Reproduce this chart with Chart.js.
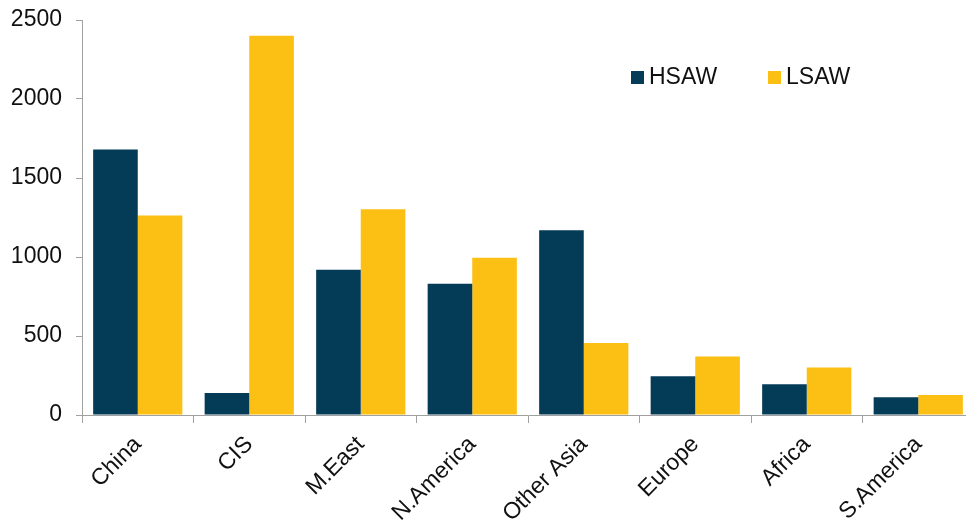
<!DOCTYPE html>
<html>
<head>
<meta charset="utf-8">
<script src="https://cdn.jsdelivr.net/npm/chart.js@4/dist/chart.umd.min.js"></script>
<style>
  html, body { margin: 0; padding: 0; background: #fff; overflow: hidden; }
  #wrap { position: absolute; left: 0; top: 0; width: 980px; height: 525px; }
</style>
</head>
<body>
<div id="wrap"><canvas id="c" width="980" height="525"></canvas></div>
<script>
const categories = ['China', 'CIS', 'M.East', 'N.America', 'Other Asia', 'Europe', 'Africa', 'S.America'];
const hsawValues = [1680, 140, 920, 830, 1170, 245, 195, 112];
const lsawValues = [1262, 2400, 1302, 995, 456, 370, 300, 127];
const seriesNames = ['HSAW', 'LSAW'];
const yTicks = [0, 500, 1000, 1500, 2000, 2500];

const colors = ['#043b56', '#fbc013'];
const FONT = "'Liberation Sans', Arial, sans-serif";

const legendPlugin = {
  id: 'customLegend',
  afterDraw(chart) {
    const ctx = chart.ctx;
    const items = [{x: 631, tx: 649}, {x: 768, tx: 786}];
    ctx.save();
    ctx.font = '23px ' + FONT;
    ctx.textBaseline = 'middle';
    chart.data.datasets.forEach((ds, i) => {
      ctx.fillStyle = ds.backgroundColor;
      ctx.fillRect(items[i].x, 71, 13, 13);
      ctx.fillStyle = '#111';
      ctx.fillText(ds.label, items[i].tx, 77.5);
    });
    ctx.restore();
  }
};

new Chart(document.getElementById('c'), {
  type: 'bar',
  data: {
    labels: categories,
    datasets: [
      { label: seriesNames[0], data: hsawValues, backgroundColor: colors[0], borderWidth: 0 },
      { label: seriesNames[1], data: lsawValues, backgroundColor: colors[1], borderWidth: 0 }
    ]
  },
  options: {
    responsive: false,
    animation: false,
    devicePixelRatio: 1,
    layout: { padding: { top: 20, right: 6, left: 0, bottom: 0 } },
    plugins: { legend: { display: false }, tooltip: { enabled: false } },
    datasets: { bar: { categoryPercentage: 0.8, barPercentage: 1.0 } },
    scales: {
      x: {
        grid: { display: true, drawOnChartArea: false, color: '#a0a0a0', tickLength: 8, offset: true },
        border: { display: true, color: '#a0a0a0', width: 1 },
        ticks: { font: { family: FONT, size: 23 }, color: '#111', maxRotation: 45, minRotation: 45, autoSkip: false, padding: 8 },
        afterFit(scale) { scale.height = 110; scale.paddingLeft = 0; scale.paddingRight = 0; }
      },
      y: {
        min: 0, max: 2500,
        afterBuildTicks(scale) { scale.ticks = yTicks.map(v => ({ value: v })); },
        grid: { display: true, drawOnChartArea: false, color: '#a0a0a0', tickLength: 6 },
        border: { display: true, color: '#a0a0a0', width: 1 },
        ticks: { font: { family: FONT, size: 23 }, color: '#111', padding: 14, callback: v => String(v) },
        afterFit(scale) { scale.width = 82; scale.paddingTop = 0; scale.paddingBottom = 0; }
      }
    }
  },
  plugins: [legendPlugin]
});
</script>
</body>
</html>
